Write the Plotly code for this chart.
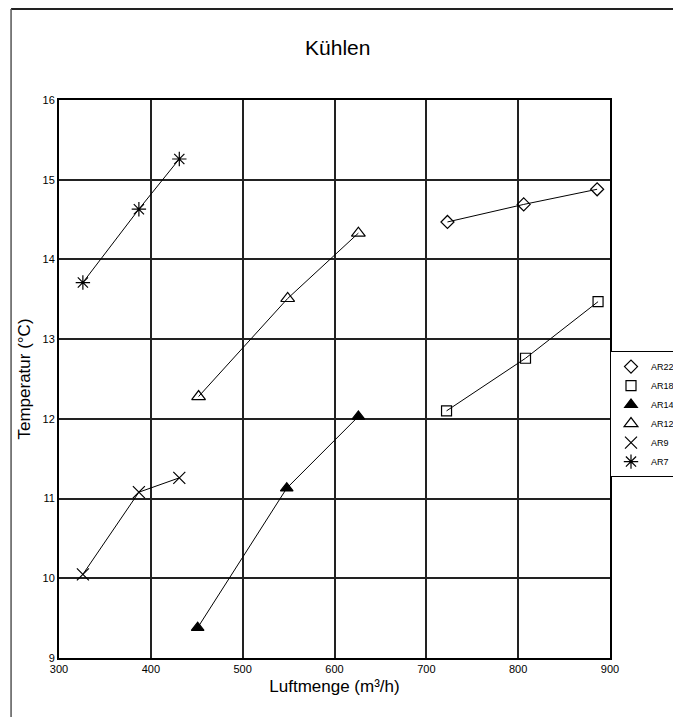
import plotly.graph_objects as go

# Luftmenge (m3/h) and Temperatur (degC) per unit
series_names = ['AR22', 'AR18', 'AR14', 'AR12', 'AR9', 'AR7']
ar22_x = [723, 806, 886]
ar22_y = [14.47, 14.69, 14.88]
ar18_x = [722, 808, 887]
ar18_y = [12.10, 12.76, 13.47]
ar14_x = [451, 548, 626]
ar14_y = [9.38, 11.13, 12.03]
ar12_x = [452, 549, 626]
ar12_y = [12.28, 13.51, 14.33]
ar9_x = [326, 387, 431]
ar9_y = [10.05, 11.08, 11.26]
ar7_x = [326, 387, 431]
ar7_y = [13.71, 14.63, 15.26]

x_ticks = [300, 400, 500, 600, 700, 800, 900]
y_ticks = [9, 10, 11, 12, 13, 14, 15, 16]

xs = [ar22_x, ar18_x, ar14_x, ar12_x, ar9_x, ar7_x]
ys = [ar22_y, ar18_y, ar14_y, ar12_y, ar9_y, ar7_y]
symbols = ['diamond-open', 'square-open', 'triangle-up', 'triangle-up-open',
           'x-thin-open', 'asterisk-open']
sizes = [10, 10, 11, 12, 12, 12]

fig = go.Figure()
for i, name in enumerate(series_names):
    # connecting line, kept out of the legend
    fig.add_trace(go.Scatter(x=xs[i], y=ys[i], mode='lines',
                             line=dict(color='black', width=1),
                             showlegend=False, hoverinfo='skip'))
    fig.add_trace(go.Scatter(x=xs[i], y=ys[i], mode='markers', name=name,
                             marker=dict(symbol=symbols[i], size=sizes[i],
                                         color='black',
                                         line=dict(color='black', width=1.2))))

font_fam = 'Liberation Sans Narrow, Arial, Liberation Sans, sans-serif'
tick_fam = 'Arial, Liberation Sans, sans-serif'

# page has an 8px body margin, so the figure is a bit smaller than the window
fig.update_layout(
    width=673, height=709,
    margin=dict(l=51, r=71, t=92, b=59, autoexpand=False),
    paper_bgcolor='white', plot_bgcolor='white',
    font=dict(family=font_fam, color='black'),
    title=dict(text='Kühlen', x=0.49, xanchor='center', y=0.944,
               yanchor='middle', font=dict(size=21, family=font_fam)),
    legend=dict(x=1.0, y=0.55, xanchor='left', yanchor='top',
                bordercolor='black', borderwidth=1, bgcolor='white',
                font=dict(size=9, family=tick_fam, color='black'),
                itemwidth=30, tracegroupgap=0,
                traceorder='normal'),
    shapes=[
        dict(type='line', xref='paper', yref='paper', x0=-0.087, x1=1.2,
             y0=1.163, y1=1.163, line=dict(color='#222', width=2)),
        dict(type='line', xref='paper', yref='paper', x0=-0.087, x1=-0.087,
             y0=-0.11, y1=1.163, line=dict(color='#555', width=1.5)),
    ],
)

fig.update_xaxes(range=[300, 900], tickvals=x_ticks, automargin=False,
                 showgrid=True, gridcolor='#222', gridwidth=1.5,
                 showline=True, linecolor='black', linewidth=2, mirror=True,
                 ticks='', zeroline=False,
                 tickfont=dict(size=11, family=tick_fam),
                 title=dict(text='Luftmenge (m³/h)', standoff=6,
                            font=dict(size=17, family=font_fam)))
fig.update_yaxes(range=[9, 16], tickvals=y_ticks, automargin=False,
                 showgrid=True, gridcolor='#222', gridwidth=1.5,
                 showline=True, linecolor='black', linewidth=2, mirror=True,
                 ticks='', zeroline=False,
                 tickfont=dict(size=11, family=tick_fam),
                 title=dict(text='Temperatur (°C)', standoff=8,
                            font=dict(size=17, family=font_fam)))

fig.write_html('out.html')
